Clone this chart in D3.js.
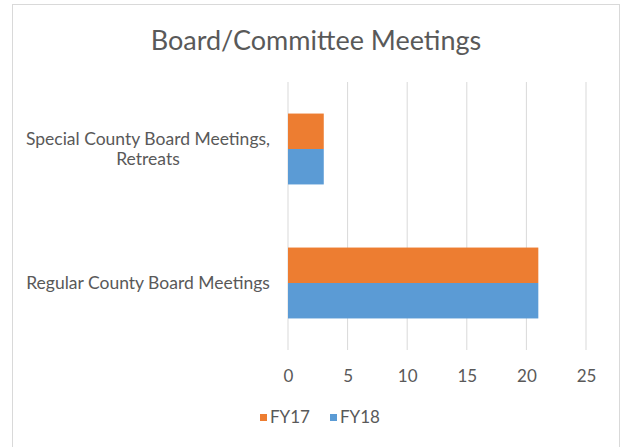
<!DOCTYPE html>
<html>
<head>
<meta charset="utf-8">
<script src="https://cdn.jsdelivr.net/npm/d3@7"></script>
<style>
  html, body { margin: 0; padding: 0; background: #fff; }
  text { font-family: Lato, 'Open Sans', sans-serif; fill: #595959; }
</style>
</head>
<body>
<div id="chart"></div>
<script>
// chart data
const categories = ['Special County Board Meetings, Retreats', 'Regular County Board Meetings']
const seriesNames = ['FY17', 'FY18']
const fy17 = [3, 21]
const fy18 = [3, 21]
const xTicks = [0, 5, 10, 15, 20, 25]
const colors = ['#ED7D31', '#5B9BD5']

const width = 624
const height = 447
const plot = { left: 288, right: 586, top: 82, bottom: 350 }

const svg = d3.select('#chart')
  .append('svg')
  .attr('width', width)
  .attr('height', height)

// outer frame (bottom edge runs off the picture)
svg.append('rect')
  .attr('x', 12.5)
  .attr('y', 4.5)
  .attr('width', 607)
  .attr('height', 450)
  .style('fill', '#fff')
  .style('stroke', '#D9D9D9')

svg.append('text')
  .attr('x', 316)
  .attr('y', 50)
  .attr('text-anchor', 'middle')
  .style('font-size', '27px')
  .text('Board/Committee Meetings')

const x = d3.scaleLinear().domain([0, 25]).range([plot.left, plot.right])
const y = d3.scaleBand().domain(categories).range([plot.top, plot.bottom])
const ySeries = d3.scaleBand().domain(seriesNames).range([0, y.bandwidth()]).paddingOuter(0.89)

// gridlines
svg.append('g')
  .selectAll('line')
  .data(xTicks)
  .enter()
  .append('line')
  .attr('x1', d => x(d))
  .attr('x2', d => x(d))
  .attr('y1', plot.top)
  .attr('y2', plot.bottom)
  .style('stroke', '#D9D9D9')
  .style('stroke-width', 1)

// bars
const rows = categories.map((c, i) => ({ cat: c, vals: [fy17[i], fy18[i]] }))
const groups = svg.append('g')
  .selectAll('g')
  .data(rows)
  .enter()
  .append('g')
  .attr('transform', d => 'translate(0,' + y(d.cat) + ')')

groups.selectAll('rect')
  .data(d => d.vals.map((v, j) => ({ name: seriesNames[j], value: v, color: colors[j] })))
  .enter()
  .append('rect')
  .attr('x', x(0))
  .attr('y', d => ySeries(d.name))
  .attr('width', d => x(d.value) - x(0))
  .attr('height', ySeries.bandwidth())
  .style('fill', d => d.color)

// x axis labels
const xAxis = d3.axisBottom(x).tickValues(xTicks).tickSize(0).tickPadding(20)
const gx = svg.append('g')
  .attr('transform', 'translate(0,' + plot.bottom + ')')
  .call(xAxis)
gx.select('.domain').remove()
gx.selectAll('text')
  .style('font-family', "Lato, 'Open Sans', sans-serif")
  .style('font-size', '17px')
  .style('fill', '#595959')

// category labels, wrapped like the original
const labelWidth = 255
categories.forEach(c => {
  const t = svg.append('text')
    .attr('text-anchor', 'middle')
    .style('font-size', '17.5px')
  const words = c.split(' ')
  let lines = []
  let line = []
  const probe = t.append('tspan')
  words.forEach(w => {
    line.push(w)
    probe.text(line.join(' '))
    if (probe.node().getComputedTextLength() > labelWidth && line.length > 1) {
      line.pop()
      lines.push(line.join(' '))
      line = [w]
    }
  })
  lines.push(line.join(' '))
  probe.remove()
  const lh = 20
  const cy = y(c) + y.bandwidth() / 2
  lines.forEach((l, i) => {
    t.append('tspan')
      .attr('x', 148)
      .attr('y', cy - (lines.length - 1) * lh / 2 + i * lh + 6)
      .text(l)
  })
})

// legend
const legend = svg.append('g')
  .selectAll('g')
  .data(seriesNames)
  .enter()
  .append('g')
  .attr('transform', (d, i) => 'translate(' + (260 + i * 70) + ',414)')

legend.append('rect')
  .attr('width', 7)
  .attr('height', 7)
  .style('fill', (d, i) => colors[i])

legend.append('text')
  .attr('x', 10)
  .attr('y', 9)
  .style('font-size', '17px')
  .text(d => d)
</script>
</body>
</html>
